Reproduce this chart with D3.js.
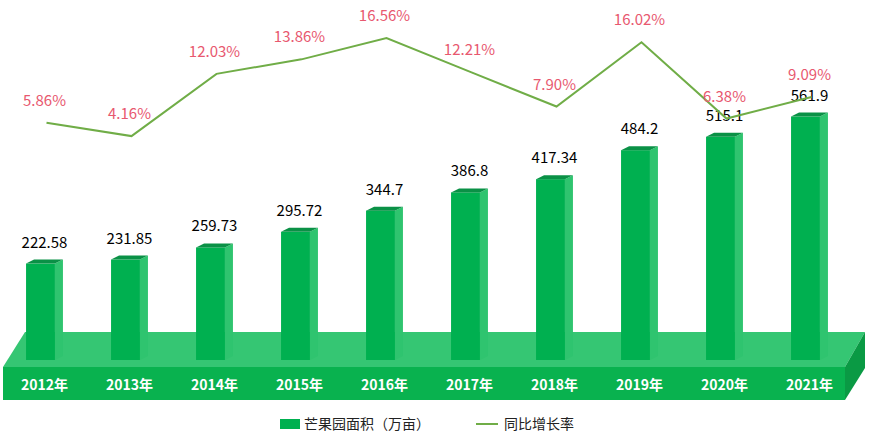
<!DOCTYPE html>
<html><head><meta charset="utf-8">
<script src="https://cdn.jsdelivr.net/npm/d3@7"></script>
<style>body{margin:0;background:#fff}svg{font-family:"Noto Sans CJK SC","Liberation Sans",sans-serif}</style>
</head><body>
<script>
var years = ['2012年','2013年','2014年','2015年','2016年','2017年','2018年','2019年','2020年','2021年'];
var areas = [222.58,231.85,259.73,295.72,344.7,386.8,417.34,484.2,515.1,561.9];
var growth = [5.86,4.16,12.03,13.86,16.56,12.21,7.90,16.02,6.38,9.09];
var growthLabels = ['5.86%','4.16%','12.03%','13.86%','16.56%','12.21%','7.90%','16.02%','6.38%','9.09%'];

var w = 882, h = 437;
var svg = d3.select('body').append('svg').attr('width', w).attr('height', h);

var x = d3.scaleBand().domain(years).range([-2, 848]).paddingInner(0.66).paddingOuter(0.33);
var y = d3.scaleLinear().domain([0, 600]).range([360, 100]);
var y2 = d3.scaleLinear().domain([0, 16.56]).range([169, 38]);

var dx = 8, dy = 4;

// platform
svg.append('path').attr('d', 'M3,367 L25,332 L865,332 L845,367 Z').attr('fill', '#35c673');
svg.append('rect').attr('x', 3).attr('y', 367).attr('width', 842).attr('height', 33).attr('fill', '#09b24f');
svg.append('path').attr('d', 'M845,367 L865,332 L865,368 L845,400 Z').attr('fill', '#0a9a44');

var g = svg.selectAll('.bar').data(years).enter().append('g');
g.append('rect').attr('x', d => x(d)).attr('y', (d, i) => y(areas[i]))
  .attr('width', x.bandwidth()).attr('height', (d, i) => y(0) - y(areas[i])).attr('fill', '#00b050');
g.append('path').attr('fill', '#2fc46f').attr('d', (d, i) => {
  var x1 = x(d) + x.bandwidth(), t = y(areas[i]);
  return 'M' + x1 + ',' + t + 'L' + (x1 + dx) + ',' + (t - dy) + 'L' + (x1 + dx) + ',' + (y(0) - dy) + 'L' + x1 + ',' + y(0) + 'Z';
});
g.append('path').attr('fill', '#0a9146').attr('d', (d, i) => {
  var x0 = x(d), x1 = x0 + x.bandwidth(), t = y(areas[i]);
  return 'M' + x0 + ',' + t + 'L' + (x0 + dx) + ',' + (t - dy) + 'L' + (x1 + dx) + ',' + (t - dy) + 'L' + x1 + ',' + t + 'Z';
});
g.append('text').attr('x', d => x(d) + x.bandwidth() / 2 + 4).attr('y', (d, i) => y(areas[i]) - 16)
  .attr('text-anchor', 'middle').attr('font-size', 15).attr('fill', '#000').text((d, i) => areas[i]);

svg.selectAll('.yl').data(years).enter().append('text')
  .attr('x', d => x(d) + x.bandwidth() / 2 + 4).attr('y', 390).attr('text-anchor', 'middle')
  .attr('font-size', 14).attr('font-weight', 'bold').attr('fill', '#fff').text(d => d);

var cx = d => x(d) + x.bandwidth() / 2 + 6;
svg.append('path').datum(years)
  .attr('d', d3.line().x(cx).y((d, i) => y2(growth[i])))
  .attr('fill', 'none').attr('stroke', '#70ad47').attr('stroke-width', 2);
svg.selectAll('.gl').data(years).enter().append('text')
  .attr('x', d => cx(d) - 2).attr('y', (d, i) => y2(growth[i]) - 17).attr('text-anchor', 'middle')
  .attr('font-size', 15).attr('fill', '#e8586f').text((d, i) => growthLabels[i]);

// legend
svg.append('rect').attr('x', 280).attr('y', 419).attr('width', 20).attr('height', 10).attr('fill', '#00b050');
svg.append('text').attr('x', 304).attr('y', 429).attr('font-size', 14).attr('fill', '#222').text('芒果园面积（万亩）');
svg.append('line').attr('x1', 476).attr('x2', 498).attr('y1', 424).attr('y2', 424).attr('stroke', '#70ad47').attr('stroke-width', 2);
svg.append('text').attr('x', 504).attr('y', 429).attr('font-size', 14).attr('fill', '#222').text('同比增长率');
</script>
</body></html>
